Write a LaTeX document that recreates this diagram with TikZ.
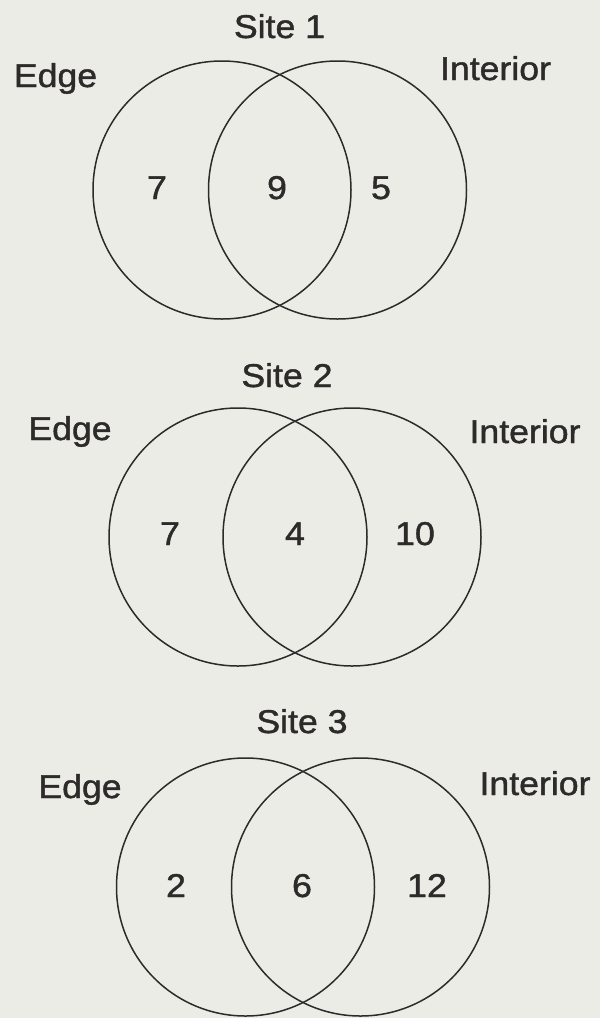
\documentclass[tikz,border=0pt]{standalone}
\usepackage{fontspec}
\newfontfamily\lblfont[FakeStretch=1.08, FakeBold=1.3]{Liberation Sans}
\definecolor{paper}{RGB}{236,236,231}
\definecolor{ink}{RGB}{45,42,42}
\tikzset{
	venn/.style={circle, draw=ink, line width=0.75pt, minimum size=129pt, inner sep=0pt},
	lbl/.style={anchor=base, text=ink, inner sep=0pt, font=\lblfont\fontsize{16.5}{20}\selectfont}
}
\begin{document}
\begin{tikzpicture}[x=0.5pt, y=-0.5pt]
	\fill[paper] (0,0) rectangle (600,1018);
	\useasboundingbox (0,0) rectangle (600,1018);
	% Site 1
	\node[venn] (edge1) at (222,190) {};
	\node[venn] (int1) at (337.5,190) {};
	\node[lbl] (title1) at (279.5,38) {Site 1};
	\node[lbl] (elbl1) at (55.5,87) {Edge};
	\node[lbl] (ilbl1) at (495.5,80) {Interior};
	\node[lbl] (only1e) at (157,199) {7};
	\node[lbl] (both1) at (277,199) {9};
	\node[lbl] (only1i) at (381,199) {5};
	% Site 2
	\node[venn] (edge2) at (238,537) {};
	\node[venn] (int2) at (352,537) {};
	\node[lbl] (title2) at (287,387) {Site 2};
	\node[lbl] (elbl2) at (70,440) {Edge};
	\node[lbl] (ilbl2) at (525,443) {Interior};
	\node[lbl] (only2e) at (170,545) {7};
	\node[lbl] (both2) at (295,545) {4};
	\node[lbl] (only2i) at (415,545) {10};
	% Site 3
	\node[venn] (edge3) at (245.5,887) {};
	\node[venn] (int3) at (360.5,887) {};
	\node[lbl] (title3) at (302,733) {Site 3};
	\node[lbl] (elbl3) at (80,798) {Edge};
	\node[lbl] (ilbl3) at (535,795) {Interior};
	\node[lbl] (only3e) at (176,897) {2};
	\node[lbl] (both3) at (302,897) {6};
	\node[lbl] (only3i) at (427,897) {12};
\end{tikzpicture}
\end{document}
